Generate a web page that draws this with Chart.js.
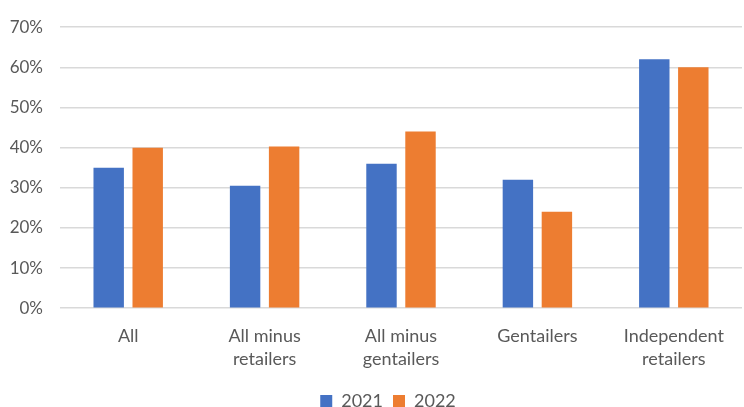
<!DOCTYPE html>
<html>
<head>
<meta charset="utf-8">
<script src="https://cdn.jsdelivr.net/npm/chart.js@4/dist/chart.umd.min.js"></script>
<style>
html,body{margin:0;padding:0;background:#fff;}
#wrap{width:744px;height:407px;position:relative;}
</style>
</head>
<body>
<div id="wrap"><canvas id="c"></canvas></div>
<script>
const categories = [["All"], ["All minus", "retailers"], ["All minus", "gentailers"], ["Gentailers"], ["Independent", "retailers"]];
const seriesNames = ["2021", "2022"];
const values2021 = [35, 30.5, 36, 32, 62];
const values2022 = [40, 40.3, 44, 24, 60];
const yTicks = [0, 10, 20, 30, 40, 50, 60, 70];

const font = "Lato, 'Open Sans', sans-serif";
const shiftLegend = {
  id: 'shiftLegend',
  afterLayout(chart) {
    const l = chart.legend;
    if (l) { l.left += 17; l.right += 17; }
  }
};
new Chart(document.getElementById('c'), {
  type: 'bar',
  data: {
    labels: categories,
    datasets: [
      { label: seriesNames[0], data: values2021, backgroundColor: '#4472C4', categoryPercentage: 0.572, barPercentage: 0.78 },
      { label: seriesNames[1], data: values2022, backgroundColor: '#ED7D31', categoryPercentage: 0.572, barPercentage: 0.78 }
    ]
  },
  plugins: [shiftLegend],
  options: {
    responsive: true,
    maintainAspectRatio: false,
    animation: false,
    layout: { autoPadding: false, padding: { left: 0, right: 2, top: 17, bottom: -13 } },
    plugins: {
      legend: {
        position: 'bottom',
        labels: { boxWidth: 12, boxHeight: 12, padding: 10, color: '#595959', font: { family: font, size: 18 } }
      },
      tooltip: { enabled: false }
    },
    scales: {
      x: {
        grid: { display: false, drawTicks: false },
        border: { display: false },
        afterFit: (axis) => { axis.height -= 5; },
        ticks: { color: '#595959', font: { family: font, size: 18, lineHeight: 1.3 }, padding: 16, maxRotation: 0, autoSkip: false }
      },
      y: {
        min: 0, max: 70,
        afterBuildTicks: (axis) => { axis.ticks = yTicks.map(v => ({ value: v })); },
        afterFit: (axis) => { axis.width = 60; },
        grid: { color: '#d9d9d9', lineWidth: 1.5, drawTicks: false },
        border: { display: false },
        ticks: { color: '#595959', font: { family: font, size: 17 }, padding: 17, callback: v => v + '%' }
      }
    }
  }
});
</script>
</body>
</html>
